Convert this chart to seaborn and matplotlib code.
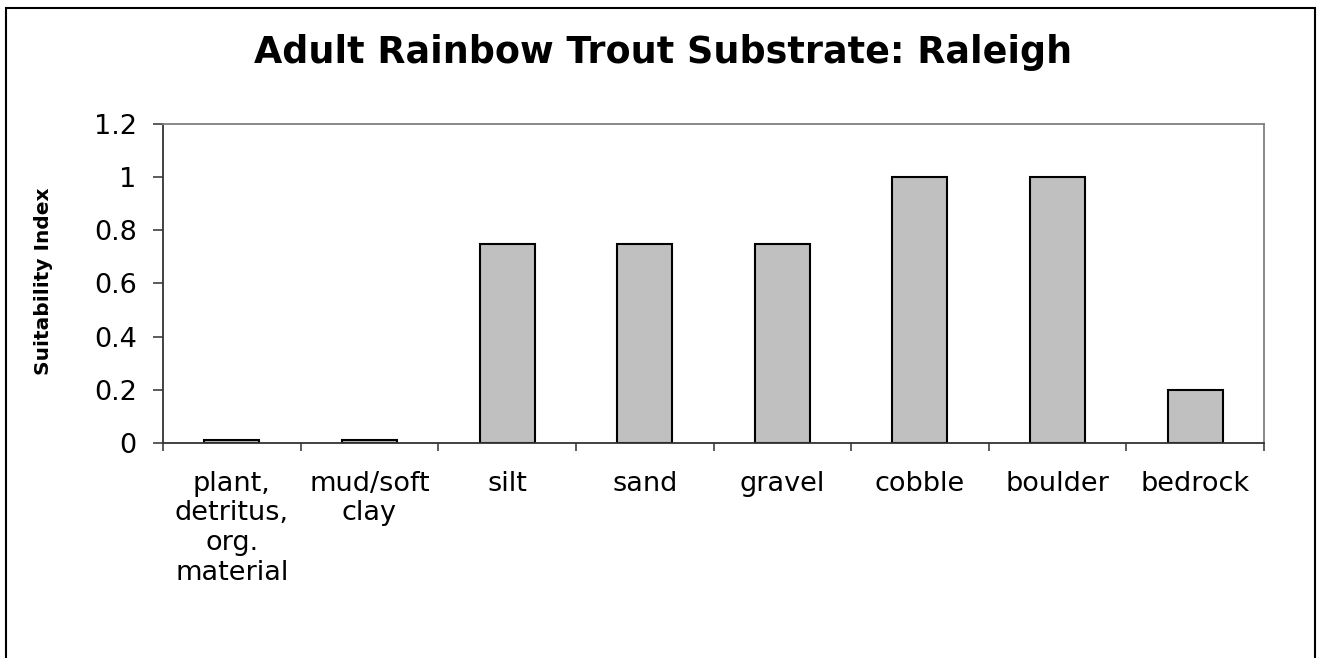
import matplotlib
matplotlib.use("Agg")
import matplotlib.pyplot as plt
from matplotlib.patches import Rectangle
import numpy as np
import pandas as pd
import seaborn as sns

# chart data
substrates = ["plant, detritus, org. material", "mud/soft clay", "silt", "sand",
              "gravel", "cobble", "boulder", "bedrock"]
tick_labels = ["plant,\ndetritus,\norg.\nmaterial", "mud/soft\nclay", "silt", "sand",
               "gravel", "cobble", "boulder", "bedrock"]
suitability = [0.01, 0.01, 0.75, 0.75, 0.75, 1.0, 1.0, 0.2]
y_ticks = [0, 0.2, 0.4, 0.6, 0.8, 1.0, 1.2]
y_tick_labels = ["0", "0.2", "0.4", "0.6", "0.8", "1", "1.2"]

graphTitle = "Adult Rainbow Trout Substrate: Raleigh"

sns.set_theme(style="white")
plt.rcParams["font.family"] = ["DejaVu Sans"]
plt.rcParams["text.color"] = "black"
plt.rcParams["xtick.labelcolor"] = "black"
plt.rcParams["ytick.labelcolor"] = "black"

df = pd.DataFrame({"substrate": substrates, "si": suitability})

fig = plt.figure(figsize=(13.2, 6.58), dpi=100)
fig.patch.set_facecolor("white")

# plot area placed like the Excel chart
ax = fig.add_axes([0.1235, 0.3267, 0.8341, 0.4849])
sns.barplot(x="substrate", y="si", data=df, color="#C0C0C0", saturation=1,
            edgecolor="black", linewidth=1.5, width=0.4, ax=ax)

ax.set_xlim(-0.5, len(substrates) - 0.5)
ax.set_ylim(0, 1.2)
ax.set_yticks(y_ticks)
ax.set_yticklabels(y_tick_labels, fontsize=19.5)
ax.set_xticks(np.arange(len(substrates)))
ax.set_xticklabels(tick_labels, fontsize=19.5, linespacing=1.18)
ax.tick_params(axis="x", which="major", length=0, pad=20, labelcolor="black")
ax.set_xticks(np.arange(len(substrates) + 1) - 0.5, minor=True)
ax.tick_params(axis="x", which="minor", length=6, width=1.2, color="#404040",
               direction="out", bottom=True)
ax.tick_params(axis="y", length=7, width=1.2, color="#404040", direction="out",
               pad=12, left=True, labelcolor="black")
ax.set_xlabel("")
ax.set_ylabel("")

for side in ["left", "bottom"]:
    ax.spines[side].set_color("#333333")
    ax.spines[side].set_linewidth(1.3)
for side in ["top", "right"]:
    ax.spines[side].set_visible(True)
    ax.spines[side].set_color("#808080")
    ax.spines[side].set_linewidth(1.3)

# title and axis label sit in figure space like the original
fig.text(0.5025, 0.904, graphTitle, ha="center", va="baseline",
         fontsize=26.3, fontweight="bold", color="black")
fig.text(0.0326, 0.573, "Suitability Index", ha="center", va="center",
         rotation=90, fontsize=14.5, fontweight="bold", color="black")

# outer chart border
fig.patches.append(Rectangle((0.0045, -0.01), 0.9917, 0.9978, transform=fig.transFigure,
                             fill=False, edgecolor="black", linewidth=1.5))

fig.savefig("out.png", dpi=100)
